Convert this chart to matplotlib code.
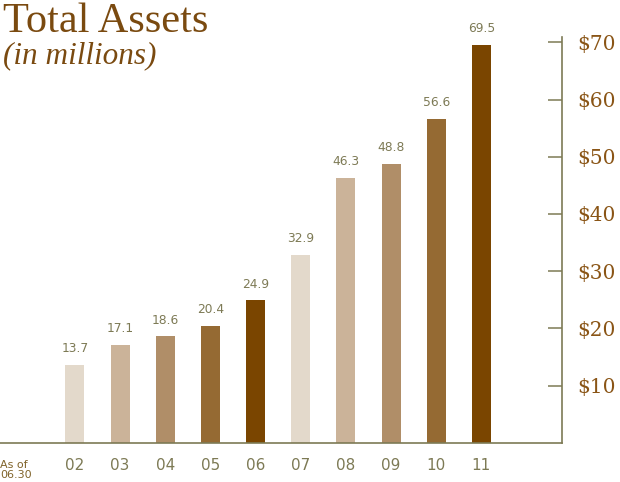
import matplotlib.pyplot as plt

# Total assets (in millions) by year
years = ['02', '03', '04', '05', '06', '07', '08', '09', '10', '11']
assets = [13.7, 17.1, 18.6, 20.4, 24.9, 32.9, 46.3, 48.8, 56.6, 69.5]
bar_colors = ['#e3d9cb', '#cbb399', '#b08e68', '#956a33', '#7a4500',
              '#e3d9cb', '#cbb399', '#b08e68', '#956a33', '#7a4500']
yticks = [10, 20, 30, 40, 50, 60, 70]

olive = '#7d7a55'
brown = '#8a5516'

fig = plt.figure(figsize=(6.2, 4.82), dpi=100)
ax = fig.add_axes([0.0, 0.081, 0.906, 0.842])

x = list(range(len(years)))
bars = ax.bar(x, assets, width=0.42, color=bar_colors)

# value labels above bars
for xi, v in zip(x, assets):
    ax.annotate(f'{v}', (xi, v), xytext=(0, 7), textcoords='offset points',
                ha='center', va='bottom', fontsize=8.8, color=olive)

ax.set_xlim(-1.66, 10.78)
ax.set_ylim(0, 70.9)

ax.set_xticks(x)
ax.set_xticklabels(years, fontsize=11, color=olive)
ax.tick_params(axis='x', length=0, pad=11)

ax.yaxis.tick_right()
ax.set_yticks(yticks)
ax.set_yticklabels([f'${t}' for t in yticks], family='DejaVu Serif',
                   fontsize=14.5, color=brown)
ax.tick_params(axis='y', direction='in', length=10, width=1.1,
               color=olive, pad=11.5)

for s in ['top', 'left']:
    ax.spines[s].set_visible(False)
for s in ['bottom', 'right']:
    ax.spines[s].set_color(olive)
    ax.spines[s].set_linewidth(1.2)

ax.text(0.0, -0.042, 'As of\n06.30', transform=ax.transAxes, ha='left',
        va='top', fontsize=8, color='#80632a', linespacing=1.0)

fig.text(0.005, 0.995, 'Total Assets', family='Liberation Serif',
         fontsize=30.5, color='#7a4a10', ha='left', va='top')
fig.text(0.005, 0.915, '(in millions)', family='Liberation Serif',
         style='italic', fontsize=22.5, color='#7a4a10', ha='left', va='top')

fig.savefig('out.png', dpi=100)
